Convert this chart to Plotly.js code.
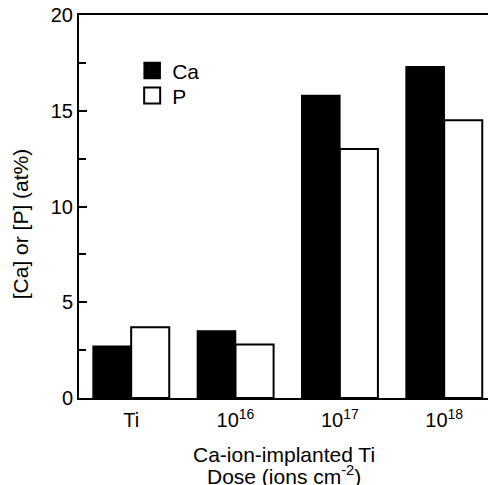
<!DOCTYPE html>
<html><head><meta charset="utf-8">
<script src="https://cdn.plot.ly/plotly-3.0.1.min.js"></script>
<style>html,body{margin:0;padding:0;background:#fff}</style>
</head><body><div id="chart" style="width:488px;height:485px"></div>
<script>
var categories = ["Ti", "10<sup>16</sup>", "10<sup>17</sup>", "10<sup>18</sup>"];
var caValues = [2.7, 3.5, 15.8, 17.3];
var pValues = [3.7, 2.8, 13.0, 14.5];
var yTickVals = [0, 5, 10, 15, 20];
var xTitleLines = ["Ca-ion-implanted Ti", "Dose (ions cm<sup>-2</sup>)"];

var fam = "Liberation Sans, Arial, Helvetica, sans-serif";
var font = {family: fam, size: 20, color: "#000"};
var traces = [
  {type: "bar", name: "Ca", x: categories, y: caValues, showlegend: false,
   marker: {color: "#000", line: {color: "#000", width: 1.5}}},
  {type: "bar", name: "P", x: categories, y: pValues, showlegend: false,
   marker: {color: "#fff", line: {color: "#000", width: 2}}},
  {type: "scatter", mode: "markers", name: "Ca", x: [null], y: [null], legend: "legend",
   marker: {symbol: "square", size: 16, color: "#000", line: {color: "#000", width: 1.5}}},
  {type: "scatter", mode: "markers", name: "P", x: [null], y: [null], legend: "legend2",
   marker: {symbol: "square", size: 16, color: "#fff", line: {color: "#000", width: 2}}}
];
var legFont = {family: fam, size: 21, color: "#000"};
var titleFont = {family: fam, size: 21, color: "#000"};
var layout = {
  width: 488, height: 485,
  margin: {l: 79, r: 0, t: 15, b: 87},
  paper_bgcolor: "#fff", plot_bgcolor: "#fff",
  font: font,
  barmode: "group", bargap: 0.27, bargroupgap: 0,
  showlegend: true,
  legend: {x: 0.13, y: 0.854, xanchor: "left", yanchor: "middle", bgcolor: "rgba(0,0,0,0)",
           font: legFont, itemwidth: 30},
  legend2: {x: 0.13, y: 0.789, xanchor: "left", yanchor: "middle", bgcolor: "rgba(0,0,0,0)",
           font: legFont, itemwidth: 30},
  xaxis: {type: "category", range: [-0.5, 3.42], showline: true, linecolor: "#000", linewidth: 2,
          mirror: true, ticks: "", showgrid: false, zeroline: false, ticklabelstandoff: 3,
          tickfont: {family: fam, size: 20, color: "#000"}},
  yaxis: {range: [0, 20], tickvals: yTickVals, ticks: "inside", ticklen: 8, tickwidth: 2, tickcolor: "#000",
          minor: {dtick: 2.5, ticks: "inside", ticklen: 7, tickwidth: 2, tickcolor: "#000", showgrid: false},
          showline: true, linecolor: "#000", linewidth: 2, showgrid: false, zeroline: false,
          tickfont: {family: fam, size: 20, color: "#000"},
          title: {text: "[Ca] or [P] (at%)&nbsp;&nbsp;&nbsp;&nbsp;&nbsp;&nbsp;", font: titleFont, standoff: 16}},
  annotations: [
    {xref: "paper", yref: "paper", x: 0.5, y: -0.1488, xanchor: "center", yanchor: "middle",
     text: xTitleLines[0], showarrow: false, font: titleFont},
    {xref: "paper", yref: "paper", x: 0.5, y: -0.201, xanchor: "center", yanchor: "middle",
     text: xTitleLines[1], showarrow: false, font: titleFont}
  ]
};
Plotly.newPlot("chart", traces, layout, {displayModeBar: false, staticPlot: true});
</script></body></html>
